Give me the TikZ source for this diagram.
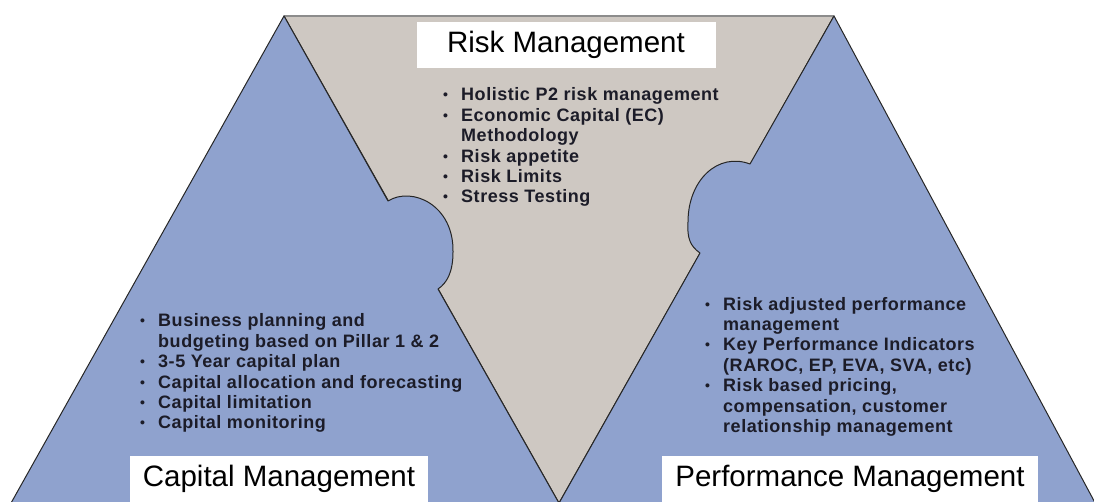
\documentclass[tikz,border=0pt]{standalone}
\usepackage{fontspec}
\setmainfont{Liberation Sans}

\newcommand{\bul}{\makebox[18pt][l]{\raisebox{1pt}{\fontsize{14}{14}\selectfont\textbullet}}}
\newcommand{\cnt}{\hspace*{18pt}}

\tikzset{
  headbox/.style={fill=white, minimum height=46pt, inner sep=0pt, font=\fontsize{29.5}{34}\selectfont},
  bulletlist/.style={anchor=north west, inner sep=0pt, align=left, text=listtext,
    font=\fontsize{18}{20.4}\selectfont\bfseries\addfontfeature{LetterSpace=3}},
  piece/.style={draw=black!85, line width=1pt, line join=round},
}

\begin{document}
\begin{tikzpicture}[x=1pt,y=-1pt]
    % Define colors for the three pieces
    \definecolor{pillarblue}{RGB}{143,162,206}
    \definecolor{riskgray}{RGB}{206,200,194}
    \definecolor{listtext}{RGB}{28,28,40}

    \useasboundingbox (0,0) rectangle (1094,502);
    \clip (0,0) rectangle (1094,502);

    % Risk wedge (gray, upside down)
    \filldraw[piece, fill=riskgray] (284,16) -- (834,16) -- (559,503) -- cycle;
    \draw[black!45, line width=1.3pt] (284,16) -- (834,16);

    % Capital piece (left), tab pushed into the wedge
    \filldraw[piece, fill=pillarblue] (284,16) -- (388,201)
        .. controls (412,186) and (454,205) .. (453,252)
        .. controls (453,272) and (447,283) .. (438,289)
        -- (564,512) -- (6,512) -- cycle;

    % Performance piece (right), tab pushed into the wedge
    \filldraw[piece, fill=pillarblue] (834,16) -- (1100,512) -- (554,512) -- (700,253)
        .. controls (690,246) and (687,238) .. (688,222)
        .. controls (688,180) and (718,152) .. (750,164) -- cycle;

    % Headings
    \node[headbox, minimum width=299pt] (riskhead) at (566,45) {Risk Management};
    \node[headbox, minimum width=298pt] (caphead) at (279,479) {Capital Management};
    \node[headbox, minimum width=376pt] (perfhead) at (850,479) {Performance Management};

    % Bullet lists
    \node[bulletlist] (risklist) at (443,87.6) {
        \bul Holistic P2 risk management\\
        \bul Economic Capital (EC)\\
        \cnt Methodology\\
        \bul Risk appetite\\
        \bul Risk Limits\\
        \bul Stress Testing};

    \node[bulletlist] (caplist) at (140,313.6) {
        \bul Business planning and\\
        \cnt budgeting based on Pillar 1 \& 2\\
        \bul 3-5 Year capital plan\\
        \bul Capital allocation and forecasting\\
        \bul Capital limitation\\
        \bul Capital monitoring};

    \node[bulletlist] (perflist) at (705,296.9) {
        \bul Risk adjusted performance\\
        \cnt management\\
        \bul Key Performance Indicators\\
        \cnt (RAROC, EP, EVA, SVA, etc)\\
        \bul Risk based pricing,\\
        \cnt compensation, customer\\
        \cnt relationship management};

\end{tikzpicture}
\end{document}
